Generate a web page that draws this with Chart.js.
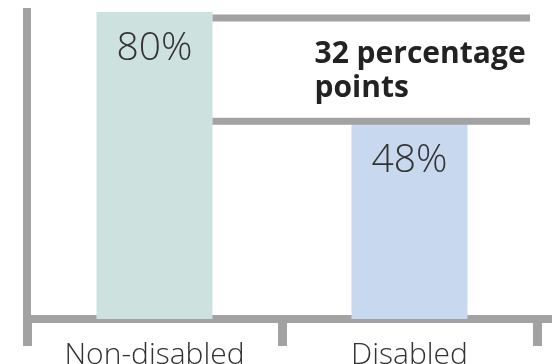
<!DOCTYPE html>
<html>
<head>
<meta charset="utf-8">
<script src="https://cdn.jsdelivr.net/npm/chart.js@4.4.0/dist/chart.umd.min.js"></script>
<style>
    html, body { margin: 0; padding: 0; background: #fff; }
</style>
</head>
<body>
<canvas id="chart-gap" width="557" height="364"></canvas>
<script>
var categories = ['Non-disabled', 'Disabled'];
var values = [80, 48];
var valueLabels = ['80%', '48%'];
var gapLabel = ['32 percentage', 'points'];
var barColors = ['#cde2df', '#c8d8ee'];
var yMin = -7.5;
var yMax = 80;

var axisGrey = '#a2a2a2';

// value labels, gap bracket and the little overhang of the x axis
var annotations = {
    id: 'annotations',
    afterDraw: function(chart) {
        var ctx = chart.ctx;
        var meta = chart.getDatasetMeta(0);
        var y = chart.scales.y;
        var x = chart.scales.x;
        var area = chart.chartArea;
        ctx.save();

        ctx.fillStyle = '#333';
        ctx.font = '300 39px "Open Sans"';
        ctx.textAlign = 'center';
        ctx.textBaseline = 'alphabetic';
        meta.data.forEach(function(bar, i) {
            ctx.fillText(valueLabels[i], bar.x, bar.y + 48);
        });

        var left = meta.data[0].x + meta.data[0].width / 2;
        var right = area.right - 7;
        var topY = y.getPixelForValue(values[0]) + 6;
        var lowY = y.getPixelForValue(values[1]) - 3;
        ctx.fillStyle = axisGrey;
        ctx.fillRect(left, topY - 3.5, right - left, 7);
        ctx.fillRect(left, lowY - 3.5, right - left, 7);

        // x axis runs a bit past the last tick
        ctx.fillRect(area.right, x.top - 4, 15, 8);

        ctx.fillStyle = '#222';
        ctx.font = 'bold 30px "Open Sans"';
        ctx.textAlign = 'left';
        var tx = meta.data[1].x - 95;
        ctx.fillText(gapLabel[0], tx, topY + 45);
        ctx.fillText(gapLabel[1], tx, topY + 79);

        ctx.restore();
    }
};

var ctx = document.getElementById('chart-gap').getContext('2d');

var myChart = new Chart(ctx, {
    type: 'bar',
    data: {
        labels: categories,
        datasets: [{
            data: values,
            backgroundColor: barColors,
            borderWidth: 0,
            base: yMin,
            barPercentage: 0.455,
            categoryPercentage: 1,
            clip: false
        }]
    },
    options: {
        responsive: false,
        animation: false,
        devicePixelRatio: 1,
        layout: {
            padding: { left: 27, right: 20, top: 12, bottom: 0 }
        },
        plugins: {
            legend: { display: false },
            tooltip: { enabled: false }
        },
        scales: {
            x: {
                z: 1,
                grid: {
                    display: true,
                    drawOnChartArea: false,
                    drawTicks: true,
                    tickLength: 27,
                    lineWidth: 9,
                    color: axisGrey
                },
                border: { display: true, width: 8, color: axisGrey },
                ticks: {
                    padding: -6,
                    color: '#333',
                    font: { family: 'Open Sans', size: 30, weight: '300', lineHeight: 1.0 }
                }
            },
            y: {
                z: 1,
                min: yMin,
                max: yMax,
                grid: { display: false, drawTicks: false },
                border: { display: true, width: 8, color: axisGrey },
                ticks: { display: false }
            }
        }
    },
    plugins: [annotations]
});
</script>
</body>
</html>
